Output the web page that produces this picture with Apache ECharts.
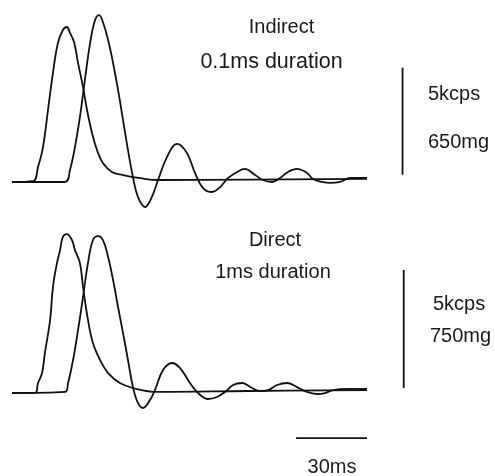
<!DOCTYPE html>
<html>
<head>
<meta charset="utf-8">
<script src="https://cdn.jsdelivr.net/npm/echarts@6/dist/echarts.min.js"></script>
<style>
html,body{margin:0;padding:0;background:#fff;}
#chart{width:495px;height:476px;}
</style>
</head>
<body>
<div id="chart"></div>
<script>
// Time in ms, firing rate in kcps, acceleration in mg
const indirectRate = [[0,-0.09],[8.9,-0.05],[11.0,0.61],[13.1,1.54],[15.2,3.27],[17.3,5.00],[19.4,6.40],[21.5,7.01],[23.2,7.15],[24.5,6.87],[26.2,6.45],[27.9,5.47],[30.0,4.35],[31.7,3.27],[33.8,2.20],[35.9,1.40],[38.4,0.79],[42.2,0.37],[46.9,0.23],[54.1,0.09],[61.7,0],[100,0.02],[150,0.05]];
const indirectAccel = [[0,-12],[22.4,-12],[24.5,61],[26.6,200],[28.7,383],[30.8,608],[33.0,832],[35.1,972],[36.8,1002],[38.4,960],[40.6,850],[42.7,711],[44.8,547],[46.9,365],[49.0,182],[51.1,18],[53.2,-103],[56.2,-164],[59.1,-103],[61.7,0],[65.5,140],[69.7,219],[73.9,164],[77.3,43],[80.7,-49],[84.5,-73],[87.9,-43],[91.3,12],[95.1,49],[98.4,67],[102.7,30],[106.0,0],[109.8,-12],[113.2,12],[116.6,49],[120.4,67],[124.6,43],[127.2,6],[131.0,-12],[134.3,-18],[138.6,-12],[142.8,12],[150,12]];
const directRate = [[0,-0.08],[9.7,-0.08],[11.0,0.34],[12.7,0.76],[13.9,1.61],[16.1,3.01],[17.3,4.41],[19.0,5.42],[20.3,5.97],[21.5,6.53],[23.2,6.65],[25.3,6.40],[26.6,5.97],[28.7,5.42],[30.0,4.41],[32.1,3.01],[34.2,2.03],[37.2,1.31],[40.6,0.76],[45.6,0.34],[52.8,0.08],[61.3,-0.04],[100,0],[150,0.04]];
const directAccel = [[0,-13],[22.4,-6],[23.7,51],[25.8,197],[27.9,388],[30.0,597],[32.1,814],[34.2,960],[36.3,985],[38.4,960],[40.6,852],[42.7,706],[44.8,534],[46.9,369],[49.0,197],[51.1,25],[53.2,-76],[55.3,-108],[58.3,-57],[60.4,6],[63.8,133],[67.6,178],[71.0,146],[75.2,51],[78.6,-13],[82.8,-51],[86.6,-38],[90.0,-6],[93.4,38],[97.2,51],[101.4,19],[104.8,0],[108.2,6],[112.0,38],[116.2,51],[120.4,25],[124.6,-6],[128.9,-19],[132.2,-13],[135.6,6],[141.5,13],[150,13]];
// Calibration bars
const scaleBarIndirect = [[165,0.25],[165,5.25]];   // 5 kcps / 650 mg
const scaleBarDirect = [[165.5,0.13],[165.5,5.13]];  // 5 kcps / 750 mg
const timeBar = [[120,-2],[150,-2]];                 // 30 ms
const panelTitles = ['Indirect','0.1ms duration','Direct','1ms duration'];
const scaleLabels = ['5kcps','650mg','5kcps','750mg','30ms'];

const chart = echarts.init(document.getElementById('chart'), null, {renderer:'canvas'});
const FONT = '"Liberation Sans", Arial, Helvetica, sans-serif';
const lineStyle = {color:'#111', width:1.8};
function ln(name, data, xi, yi, smooth){
  return {type:'line', name, data, xAxisIndex:xi, yAxisIndex:yi, showSymbol:false, symbol:'none',
    smooth: smooth, lineStyle: lineStyle, silent:true, animation:false, clip:false};
}
const txt = (t, x, y, align, size) => ({type:'text', x, y,
  style:{text:t, x:0, y:0, fill:'#1a1a1a', font:(size||20)+'px '+FONT, textAlign:align, textVerticalAlign:'middle'}});

chart.setOption({
  animation:false,
  backgroundColor:'#fff',
  grid:[
    {left:12, top:8.8, width:473.4, height:203.3},
    {left:12, top:225.8, width:473.4, height:224.2}
  ],
  xAxis:[
    {type:'value', gridIndex:0, min:0, max:200, show:false},
    {type:'value', gridIndex:1, min:0, max:200, show:false}
  ],
  yAxis:[
    {type:'value', gridIndex:0, min:-1.5, max:8, show:false},
    {type:'value', gridIndex:0, min:-195, max:1040, show:false},
    {type:'value', gridIndex:1, min:-2.5, max:7, show:false},
    {type:'value', gridIndex:1, min:-375, max:1050, show:false}
  ],
  series:[
    ln('Indirect rate', indirectRate, 0, 0, 0.4),
    ln('Indirect accel', indirectAccel, 0, 1, 0.4),
    ln('Direct rate', directRate, 1, 2, 0.4),
    ln('Direct accel', directAccel, 1, 3, 0.4),
    ln('scale1', scaleBarIndirect, 0, 0, false),
    ln('scale2', scaleBarDirect, 1, 2, false),
    ln('time', timeBar, 1, 2, false)
  ],
  graphic:[
    txt(panelTitles[0], 281.5, 27, 'center'),
    txt(panelTitles[1], 271.5, 62, 'center', 21.5),
    txt(panelTitles[2], 275, 240, 'center'),
    txt(panelTitles[3], 273, 272, 'center'),
    txt(scaleLabels[0], 428, 94, 'left'),
    txt(scaleLabels[1], 428, 142, 'left'),
    txt(scaleLabels[2], 433, 304, 'left'),
    txt(scaleLabels[3], 430, 336, 'left'),
    txt(scaleLabels[4], 332, 467, 'center')
  ]
});
</script>
</body>
</html>
